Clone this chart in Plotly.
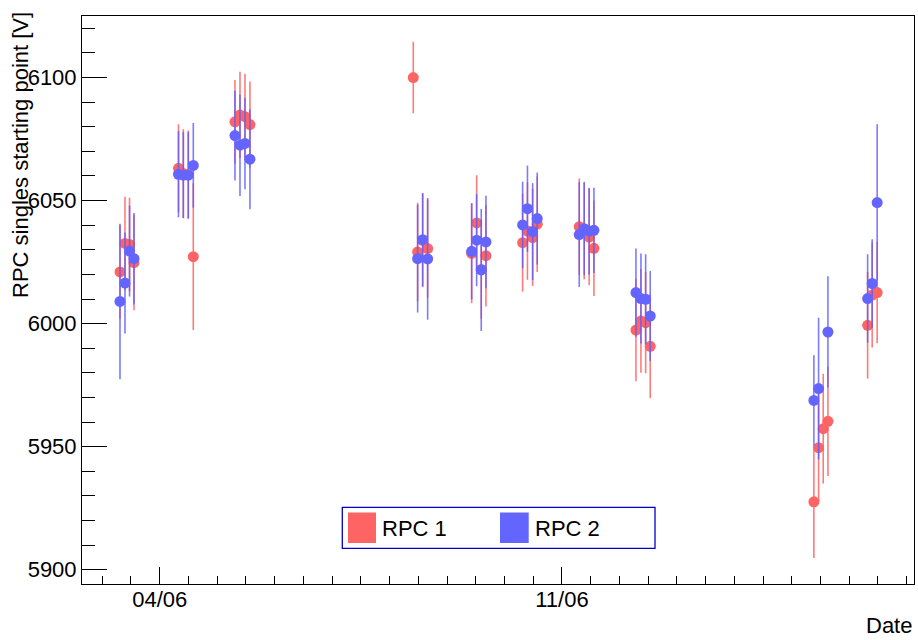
import plotly.graph_objects as go

times = [
    "2023-06-03 07:25", "2023-06-03 09:30", "2023-06-03 11:24", "2023-06-03 13:16",
    "2023-06-04 07:51", "2023-06-04 09:52", "2023-06-04 11:57", "2023-06-04 14:02",
    "2023-06-05 07:26", "2023-06-05 09:32", "2023-06-05 11:37", "2023-06-05 13:42",
    "2023-06-08 09:55", "2023-06-08 11:44", "2023-06-08 13:50", "2023-06-08 15:55",
    "2023-06-09 10:18", "2023-06-09 12:23", "2023-06-09 14:18", "2023-06-09 16:16",
    "2023-06-10 07:35", "2023-06-10 09:36", "2023-06-10 11:46", "2023-06-10 13:41",
    "2023-06-11 07:14", "2023-06-11 09:19", "2023-06-11 11:22", "2023-06-11 13:22",
    "2023-06-12 06:55", "2023-06-12 09:00", "2023-06-12 10:58", "2023-06-12 12:53",
    "2023-06-15 09:14", "2023-06-15 11:12", "2023-06-15 13:08", "2023-06-15 15:06",
    "2023-06-16 07:41", "2023-06-16 09:35", "2023-06-16 11:40",
]

rpc1 = [
    6021.0, 6032.6, 6032.2, 6024.8,
    6063.1, 6061.0, 6060.5, 6027.2,
    6082.0, 6084.8, 6084.1, 6080.9,
    6100.0, 6029.1, 6033.8, 6030.5,
    6028.6, 6040.9, 6022.0, 6027.6,
    6032.9, 6037.6, 6035.0, 6040.4,
    6039.4, 6037.6, 6035.2, 6030.6,
    5997.4, 6001.1, 6000.4, 5990.8,
    5927.6, 5949.6, 5957.3, 5960.3,
    5999.3, 6011.6, 6012.6,
]
rpc1_err = [
    19.0, 19.0, 19.0, 19.4,
    17.9, 18.0, 18.0, 29.8,
    17.0, 17.5, 17.4, 17.5,
    14.5, 20.0, 19.0, 20.0,
    20.3, 19.4, 20.0, 20.6,
    19.9, 19.8, 19.7, 19.4,
    19.6, 19.6, 19.6, 19.4,
    20.8, 21.1, 20.6, 21.1,
    22.8, 22.0, 22.3, 22.2,
    21.7, 21.3, 20.6,
]

rpc2 = [
    6009.0, 6016.5, 6029.5, 6026.4,
    6060.7, 6060.3, 6060.3, 6064.3,
    6076.4, 6072.5, 6073.2, 6066.8,
    None, 6026.4, 6034.1, 6026.3,
    6029.4, 6033.9, 6021.8, 6033.2,
    6040.1, 6046.7, 6037.4, 6042.7,
    6036.2, 6038.6, 6037.6, 6037.9,
    6012.6, 6010.2, 6009.9, 6003.1,
    5968.8, 5973.6, None, 5996.6,
    6010.2, 6016.3, 6049.2,
]
rpc2_err = [
    31.6, 20.5, 18.5, 18.6,
    17.5, 17.5, 17.5, 17.2,
    18.2, 20.6, 18.6, 20.3,
    0.0, 21.9, 19.0, 24.7,
    19.5, 18.7, 24.8, 18.8,
    17.6, 17.5, 19.7, 18.7,
    21.3, 19.0, 17.6, 17.3,
    17.9, 18.3, 18.3, 18.3,
    18.3, 28.8, 0.0, 22.6,
    18.0, 18.0, 31.8,
]

series_names = ["RPC 1", "RPC 2"]
x_title = "Date"
y_title = "RPC singles starting point [V]"

RED = "#ff6464"
BLUE = "#6464ff"
FONT = "Liberation Sans, Arial, sans-serif"

W, H = 918, 640
L, R, T, B = 82, 4, 16, 56
PW, PH = W - L - R, H - T - B


def px(x):
    return (x - L) / PW


def py(y):
    return (H - B - y) / PH


fig = go.Figure()
fig.add_trace(go.Scatter(
    x=times, y=rpc1, mode="markers", name=series_names[0], showlegend=False,
    marker=dict(color=RED, size=11, line=dict(width=0)),
    error_y=dict(type="data", array=rpc1_err, visible=True, width=0,
                 thickness=1.6, color="rgba(255,90,90,0.8)"),
))
fig.add_trace(go.Scatter(
    x=times, y=rpc2, mode="markers", name=series_names[1], showlegend=False,
    marker=dict(color=BLUE, size=11, line=dict(width=0)),
    error_y=dict(type="data", array=rpc2_err, visible=True, width=0,
                 thickness=1.6, color="rgba(90,90,255,0.8)"),
))

# legend box drawn manually
shapes = [
    dict(type="rect", xref="paper", yref="paper", x0=px(342.3), x1=px(655),
         y0=py(548.3), y1=py(507.3), line=dict(color="#0000c8", width=1.3),
         fillcolor="white", layer="above"),
    dict(type="rect", xref="paper", yref="paper", x0=px(348), x1=px(376),
         y0=py(543), y1=py(512.5), line=dict(width=0), fillcolor=RED, layer="above"),
    dict(type="rect", xref="paper", yref="paper", x0=px(500), x1=px(528.7),
         y0=py(543), y1=py(512.5), line=dict(width=0), fillcolor=BLUE, layer="above"),
]
annotations = [
    dict(text=series_names[0], xref="paper", yref="paper", x=px(380), y=py(528),
         xanchor="left", yanchor="middle", showarrow=False,
         font=dict(family=FONT, size=22, color="black")),
    dict(text=series_names[1], xref="paper", yref="paper", x=px(533), y=py(528),
         xanchor="left", yanchor="middle", showarrow=False,
         font=dict(family=FONT, size=22, color="black")),
    dict(text=y_title, xref="paper", yref="paper", x=px(21), y=py(155),
         xanchor="center", yanchor="middle", textangle=-90, showarrow=False,
         font=dict(family=FONT, size=22, color="black")),
    dict(text=x_title, xref="paper", yref="paper", x=px(914), y=py(625.5),
         xanchor="right", yanchor="middle", showarrow=False,
         font=dict(family=FONT, size=22, color="black")),
]

fig.update_layout(
    width=W, height=H,
    margin=dict(l=L, r=R, t=T, b=B, pad=0),
    paper_bgcolor="white", plot_bgcolor="white",
    font=dict(family=FONT, size=22, color="black"),
    shapes=shapes, annotations=annotations,
    showlegend=False,
)
fig.update_xaxes(
    type="date",
    range=["2023-06-02 15:33", "2023-06-17 03:03"],
    tick0="2023-06-04", dtick=7 * 86400000, tickformat="%d/%m",
    ticks="inside", ticklen=17, tickwidth=1, tickcolor="black",
    ticklabelstandoff=-4,
    minor=dict(dtick=43200000, tick0="2023-06-04", ticks="inside", ticklen=8,
               tickwidth=1, tickcolor="black", showgrid=False),
    showline=True, linecolor="black", linewidth=1, mirror=True,
    showgrid=False, zeroline=False,
    tickfont=dict(family=FONT, size=22, color="black"),
)
fig.update_yaxes(
    range=[5894.2, 6125.0],
    tick0=5900, dtick=50,
    ticks="inside", ticklen=25, tickwidth=1, tickcolor="black",
    minor=dict(dtick=10, tick0=5900, ticks="inside", ticklen=12.5,
               tickwidth=1, tickcolor="black", showgrid=False),
    showline=True, linecolor="black", linewidth=1, mirror=True,
    showgrid=False, zeroline=False,
    tickfont=dict(family=FONT, size=22, color="black"),
)

fig.write_html("out.html")
